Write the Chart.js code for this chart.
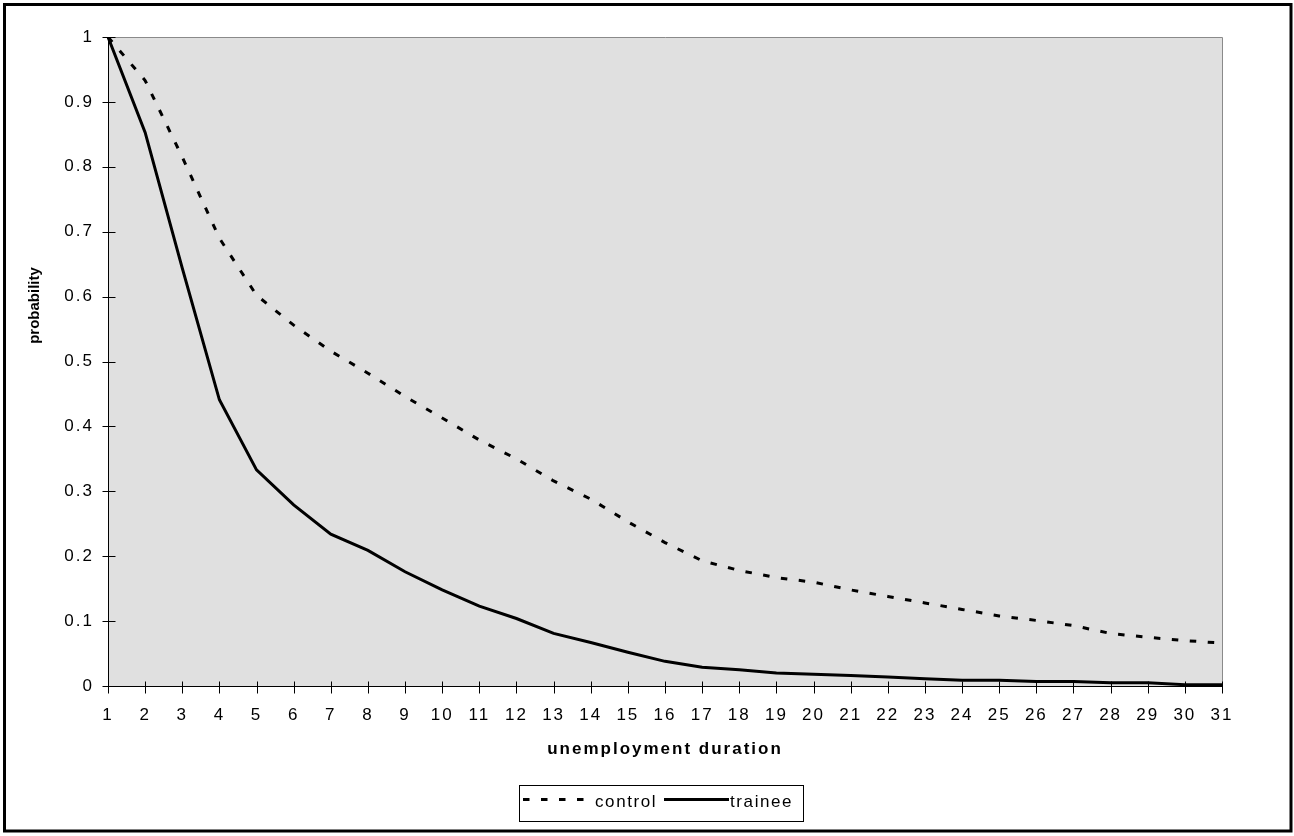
<!DOCTYPE html>
<html>
<head>
<meta charset="utf-8">
<script src="https://cdn.jsdelivr.net/npm/chart.js@4/dist/chart.umd.min.js"></script>
<style>
  html, body { margin: 0; padding: 0; background: #ffffff; }
  #wrap { width: 1294px; height: 836px; }
  canvas { display: block; }
</style>
</head>
<body>
<div id="wrap"><canvas id="survival" width="1294" height="836"></canvas></div>
<script>
// Survival in unemployment by duration (months), control vs trainee group
const durations = ['1','2','3','4','5','6','7','8','9','10','11','12','13','14','15','16',
                   '17','18','19','20','21','22','23','24','25','26','27','28','29','30','31'];

const controlSurvival = [1.000, 0.933, 0.815, 0.690, 0.602, 0.556, 0.516, 0.482, 0.446, 0.413,
                         0.379, 0.350, 0.316, 0.288, 0.253, 0.221, 0.193, 0.178, 0.167, 0.160,
                         0.148, 0.138, 0.128, 0.118, 0.108, 0.101, 0.093, 0.081, 0.075, 0.070, 0.066];

const traineeSurvival = [1.000, 0.853, 0.644, 0.441, 0.333, 0.279, 0.234, 0.209, 0.176, 0.148,
                         0.123, 0.104, 0.081, 0.067, 0.052, 0.038, 0.029, 0.025, 0.020, 0.018,
                         0.016, 0.014, 0.011, 0.009, 0.009, 0.007, 0.007, 0.005, 0.005, 0.002, 0.002];

const yTickValues = [0, 0.1, 0.2, 0.3, 0.4, 0.5, 0.6, 0.7, 0.8, 0.9, 1];
const xAxisTitle = 'unemployment duration';
const yAxisTitle = 'probability';

const FONT = "'Liberation Sans', Arial, Helvetica, sans-serif";

// Plot background, axis lines with crossing tick marks, legend box and outer frame
const excelFrame = {
  id: 'excelFrame',
  beforeDraw(chart) {
    const { ctx, chartArea: a } = chart;
    ctx.save();
    ctx.fillStyle = '#ffffff';
    ctx.fillRect(0, 0, chart.width, chart.height);
    ctx.fillStyle = '#e0e0e0';
    ctx.fillRect(a.left, a.top, a.right - a.left, a.bottom - a.top);
    ctx.restore();
    // tick labels and the horizontal axis title are drawn with wide tracking
    ctx.letterSpacing = '2px';
  },
  beforeDatasetsDraw(chart) {
    const { ctx, chartArea: a, scales } = chart;
    const L = Math.round(a.left) + 0.5, R = Math.round(a.right) + 0.5;
    const T = Math.round(a.top) + 0.5, B = Math.round(a.bottom) + 0.5;
    ctx.save();
    ctx.lineWidth = 1;
    // grey plot border (top and right)
    ctx.strokeStyle = '#8a8a8a';
    ctx.beginPath();
    ctx.moveTo(L, T); ctx.lineTo(R, T); ctx.lineTo(R, B);
    ctx.stroke();
    // axes
    ctx.strokeStyle = '#000000';
    ctx.beginPath();
    ctx.moveTo(L, T); ctx.lineTo(L, B); ctx.lineTo(R, B);
    ctx.stroke();
    // x tick marks (one per category)
    ctx.beginPath();
    scales.x.ticks.forEach((t, i) => {
      const x = Math.round(scales.x.getPixelForTick(i)) + 0.5;
      ctx.moveTo(x, B - 5); ctx.lineTo(x, B + 7);
    });
    // y tick marks
    scales.y.ticks.forEach((t, i) => {
      const y = Math.round(scales.y.getPixelForTick(i)) + 0.5;
      ctx.moveTo(L - 6, y); ctx.lineTo(L + 7, y);
    });
    ctx.stroke();
    ctx.restore();
  },
  afterDraw(chart) {
    const { ctx } = chart;
    ctx.save();
    ctx.letterSpacing = '0px';

    // vertical axis title
    ctx.fillStyle = '#000000';
    ctx.font = `bold 15px ${FONT}`;
    ctx.textAlign = 'center';
    ctx.textBaseline = 'alphabetic';
    ctx.translate(38.5, 305.5);
    ctx.rotate(-Math.PI / 2);
    ctx.fillText(yAxisTitle, 0, 0);
    ctx.setTransform(1, 0, 0, 1, 0, 0);

    // legend box
    const box = { x: 519.5, y: 785.5, w: 284, h: 36 };
    ctx.strokeStyle = '#000000';
    ctx.lineWidth = 1;
    ctx.setLineDash([]);
    ctx.strokeRect(box.x, box.y, box.w, box.h);

    const sampleY = 799.5, textY = 802.5;
    const items = [
      { ds: chart.data.datasets[0], x0: 523, x1: 592, tx: 595 },
      { ds: chart.data.datasets[1], x0: 664, x1: 729, tx: 730 }
    ];
    ctx.font = `17px ${FONT}`;
    ctx.textAlign = 'left';
    ctx.textBaseline = 'middle';
    items.forEach(it => {
      ctx.save();
      ctx.strokeStyle = it.ds.borderColor;
      ctx.lineWidth = it.ds.borderWidth;
      ctx.setLineDash(it.ds.borderDash || []);
      ctx.beginPath();
      ctx.moveTo(it.x0, sampleY);
      ctx.lineTo(it.x1, sampleY);
      ctx.stroke();
      ctx.restore();
      ctx.letterSpacing = '1.6px';
      ctx.fillStyle = '#000000';
      ctx.fillText(it.ds.label, it.tx, textY);
      ctx.letterSpacing = '0px';
    });

    // outer frame
    ctx.setLineDash([]);
    ctx.lineWidth = 3;
    ctx.strokeStyle = '#000000';
    ctx.strokeRect(4.5, 4.5, 1286.5, 826.5);
    ctx.restore();
    ctx.letterSpacing = '0px';
  }
};

const hiddenGrid = {
  display: true,
  drawOnChartArea: false,
  drawTicks: true,
  tickLength: 6,
  color: 'rgba(0,0,0,0)'
};

new Chart(document.getElementById('survival'), {
  type: 'line',
  data: {
    labels: durations,
    datasets: [
      {
        label: 'control',
        data: controlSurvival,
        borderColor: '#000000',
        borderWidth: 3,
        borderDash: [6.5, 11.5],
        pointRadius: 0,
        tension: 0,
        fill: false
      },
      {
        label: 'trainee',
        data: traineeSurvival,
        borderColor: '#000000',
        borderWidth: 3,
        pointRadius: 0,
        tension: 0,
        fill: false
      }
    ]
  },
  options: {
    responsive: false,
    animation: false,
    devicePixelRatio: 1,
    layout: { padding: { top: 37, right: 72, bottom: 0, left: 0 } },
    plugins: {
      legend: { display: false },
      tooltip: { enabled: false }
    },
    scales: {
      x: {
        type: 'category',
        offset: false,
        grid: hiddenGrid,
        border: { display: false },
        ticks: {
          color: '#000000',
          font: { family: FONT, size: 17 },
          padding: 13,
          maxRotation: 0,
          autoSkip: false
        },
        title: {
          display: true,
          text: xAxisTitle,
          color: '#000000',
          font: { family: FONT, size: 17, weight: 'bold' },
          padding: { top: 0, bottom: 76 }
        },
        afterFit: s => { s.height = 150; }
      },
      y: {
        min: 0,
        max: 1,
        grid: hiddenGrid,
        border: { display: false },
        afterBuildTicks: s => { s.ticks = yTickValues.map(v => ({ value: v })); },
        ticks: {
          color: '#000000',
          font: { family: FONT, size: 17 },
          padding: 8,
          callback: v => String(Number(v.toFixed(1)))
        },
        afterFit: s => { s.width = 108; }
      }
    }
  },
  plugins: [excelFrame]
});
</script>
</body>
</html>
